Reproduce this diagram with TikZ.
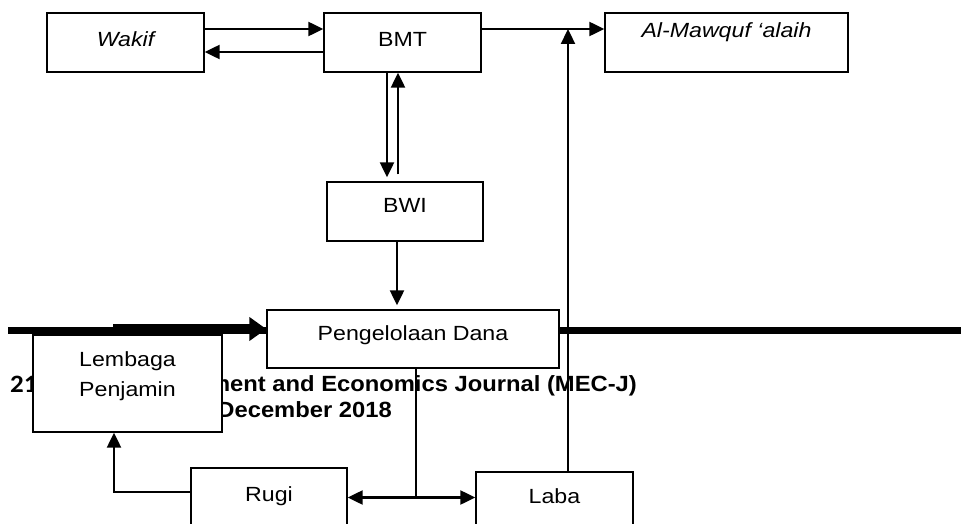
\documentclass[tikz,border=0pt]{standalone}
\usepackage{fontspec}
\setmainfont{Liberation Sans}[FakeStretch=1.13]
\newfontfamily\headfont{Liberation Sans}[FakeStretch=1.08]
\newfontfamily\pagefont{Carlito}[FakeStretch=1.08]
\usetikzlibrary{arrows.meta, backgrounds}
\begin{document}
\begin{tikzpicture}[x=1pt, y=-1pt,
		box/.style={draw, fill=white, line width=1.4pt, inner sep=0pt,
			minimum width=#1, minimum height=59pt,
			font=\fontsize{20.5}{30}\selectfont, text height=15pt, text depth=6pt},
		arr/.style={line width=2.3pt, -{Triangle[length=15pt, width=14pt]}},
		link/.style={line width=2.1pt},
		head/.style={anchor=base east, inner sep=0pt, font=\headfont\bfseries\fontsize{22}{26}\selectfont}]
	\useasboundingbox (0,0) rectangle (961,524);
	\node[box=157pt] (wakif) at (125.5,42.5) {\itshape Wakif};
	\node[box=157pt] (bmt) at (402.5,42.5) {BMT};
	\node[box=243pt, text depth=25pt] (mawquf) at (726.5,42.5) {\itshape Al-Mawquf ‘alaih};
	\node[box=156pt, text depth=13pt] (bwi) at (405,211.5) {BWI};
	\node[box=292pt, minimum height=58pt, text depth=12pt] (dana) at (413,339) {Pengelolaan Dana};
	\node[box=189pt, minimum height=97pt,
		label={[name=lembagatext, align=center, yshift=7.5pt, font=\fontsize{20.5}{30}\selectfont]center:Lembaga\\Penjamin}] (lembaga) at (127.5,383.5) {};
	\node[box=156pt, text depth=8pt] (rugi) at (269,497.5) {Rugi};
	\node[box=157pt, text depth=12pt] (laba) at (554.5,501.5) {Laba};
	% page header running under the chart
	\begin{scope}[on background layer]
		\draw[line width=7.5pt] (8,330.5) -- (966,330.5);
		\node[anchor=base west, inner sep=0pt, font=\pagefont\bfseries\fontsize{25}{30}\selectfont] (page) at (10,392) {21};
		\node[head] (journal) at (637,391) {ment and Economics Journal (MEC-J)};
		\node[head] (issue) at (392,417) {December 2018};
		\coordinate (guard) at (113,329);
		\draw[line width=10pt, -{Triangle[length=17pt, width=23pt]}] (guard) -- (guard -| dana.west);
	\end{scope}
	% arrows
	\draw[arr] ([yshift=13.5pt]wakif.east) -- ([yshift=13.5pt]bmt.west);
	\draw[arr] ([yshift=-9.5pt]bmt.west) -- ([yshift=-9.5pt]wakif.east);
	\draw[arr] ([yshift=13.5pt]bmt.east) -- ([yshift=13.5pt]mawquf.west);
	\draw[arr, shorten >=4pt] ([xshift=-15.5pt]bmt.south) -- ([xshift=-15.5pt]bmt.south |- bwi.north);
	\draw[arr, shorten <=7pt] ([xshift=-4.5pt]bmt.south |- bwi.north) -- ([xshift=-4.5pt]bmt.south);
	\draw[arr, shorten >=4pt] ([xshift=-8pt]bwi.south) -- ([xshift=-8pt]bwi.south |- dana.north);
	\coordinate (split) at ([xshift=3pt]dana.south |- rugi.east);
	\draw[link] ([xshift=3pt]dana.south) -- (split);
	\draw[arr] (split) -- (rugi.east);
	\draw[arr] (split) -- (split -| laba.west);
	\draw[arr] ([yshift=5.5pt]rugi.west) -| ([xshift=-13.5pt]lembaga.south);
	\coordinate (labatop) at ([xshift=13.5pt]laba.north);
	\coordinate (topline) at ([yshift=13.5pt]mawquf.west);
	\draw[arr] (labatop) -- (labatop |- topline);
\end{tikzpicture}
\end{document}
